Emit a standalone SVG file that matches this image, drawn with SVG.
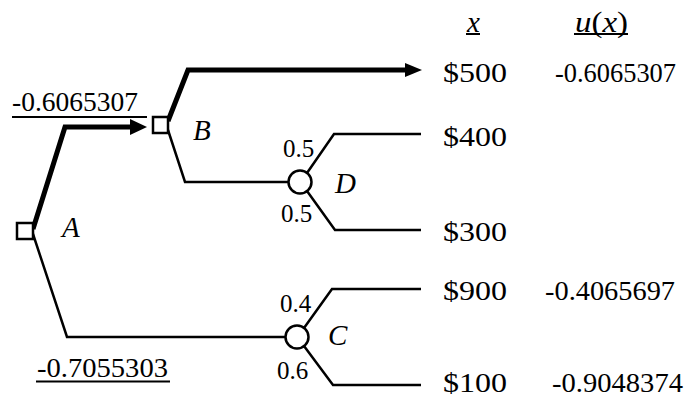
<svg xmlns="http://www.w3.org/2000/svg" width="686" height="398" viewBox="0 0 686 398">
<style>
.t{font-family:"Liberation Serif","Times New Roman",serif;font-size:28px;fill:#000}
.i{font-family:"Liberation Serif","Times New Roman",serif;font-size:29px;font-style:italic;fill:#000}
.p{font-family:"Liberation Serif","Times New Roman",serif;font-size:25px;fill:#000}
.thin{fill:none;stroke:#000;stroke-width:2.5;stroke-linejoin:miter}
.thick{fill:none;stroke:#000;stroke-width:5;stroke-linejoin:miter}
.node{fill:#fff;stroke:#000;stroke-width:2.5}
.ul{stroke:#000;stroke-width:2}
</style>
<rect width="686" height="398" fill="#fff"/>
<g id="connectors">
<path class="thick" d="M33,229 L65,127 L132,127"/>
<polygon points="130,119 147,127 130,135" fill="#000"/>
<path class="thin" d="M33,234 L67,337 L286,337"/>
<path class="thick" d="M168,121 L188,70 L407,70"/>
<polygon points="405,63 422,70 405,77" fill="#000"/>
<path class="thin" d="M168,130 L185,182 L289,182"/>
<path class="thin" d="M307,173 L334,134 L421,134"/>
<path class="thin" d="M307,191 L335,230 L421,230"/>
<path class="thin" d="M304,328 L332,289 L421,289"/>
<path class="thin" d="M304,346 L333,385 L421,385"/>
</g>
<g id="A">
<rect class="node" x="17" y="223" width="16" height="16"/>
<text class="i" x="62" y="237">A</text>
</g>
<g id="B">
<rect class="node" x="153" y="117" width="15" height="16"/>
<text class="i" x="193" y="140">B</text>
</g>
<g id="D">
<circle class="node" cx="300" cy="182" r="11.5"/>
<text class="i" x="335" y="193">D</text>
<text class="p" x="283" y="157">0.5</text>
<text class="p" x="281" y="222">0.5</text>
</g>
<g id="C">
<circle class="node" cx="297" cy="337" r="11.5"/>
<text class="i" x="328" y="345">C</text>
<text class="p" x="280" y="312">0.4</text>
<text class="p" x="277" y="379">0.6</text>
</g>
<g id="values">
<text class="t" x="12" y="111" textLength="126" lengthAdjust="spacingAndGlyphs">-0.6065307</text>
<line class="ul" x1="12" y1="117" x2="147" y2="117"/>
<text class="t" x="37" y="377" textLength="131" lengthAdjust="spacingAndGlyphs">-0.7055303</text>
<line class="ul" x1="36" y1="381.5" x2="170" y2="381.5"/>
</g>
<g id="header">
<text class="i" x="467" y="32">x</text>
<line class="ul" x1="466" y1="34" x2="480" y2="34"/>
<text class="i" x="575" y="32" textLength="53" lengthAdjust="spacingAndGlyphs"><tspan>u</tspan><tspan font-style="normal">(</tspan>x<tspan font-style="normal">)</tspan></text>
<line class="ul" x1="574" y1="34" x2="628" y2="34"/>
</g>
<g id="outcomes">
<text class="t" x="443" y="82" textLength="64" lengthAdjust="spacingAndGlyphs">$500</text>
<text class="t" x="443" y="146" textLength="64" lengthAdjust="spacingAndGlyphs">$400</text>
<text class="t" x="443" y="241" textLength="64" lengthAdjust="spacingAndGlyphs">$300</text>
<text class="t" x="443" y="300" textLength="64" lengthAdjust="spacingAndGlyphs">$900</text>
<text class="t" x="443" y="392" textLength="64" lengthAdjust="spacingAndGlyphs">$100</text>
<text class="t" x="555" y="82" textLength="121" lengthAdjust="spacingAndGlyphs">-0.6065307</text>
<text class="t" x="545" y="300" textLength="130" lengthAdjust="spacingAndGlyphs">-0.4065697</text>
<text class="t" x="552" y="392" textLength="131" lengthAdjust="spacingAndGlyphs">-0.9048374</text>
</g>
</svg>
